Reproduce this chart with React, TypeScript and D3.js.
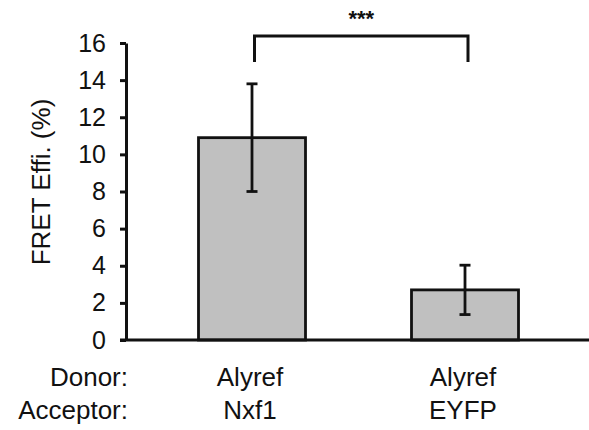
import React, { useRef, useEffect } from "react";
import * as d3 from "d3";

// values
const categories = ["Nxf1", "EYFP"];
const donors = ["Alyref", "Alyref"];
const means = [10.9, 2.7];
const errors = [2.9, 1.33];
const yTicks = [0, 2, 4, 6, 8, 10, 12, 14, 16];
const rowLabels = ["Donor:", "Acceptor:"];
const significance = "***";

const App = () => {
  const svgRef = useRef<SVGSVGElement>(null);

  useEffect(() => {
    const width = 589;
    const font = "'Liberation Sans', Arial, sans-serif";
    const ink = "#111";

    const svg = d3.select(svgRef.current);
    svg.selectAll("*").remove();

    const x = d3.scalePoint().domain(categories).range([145.5, 571.5]).padding(0.5);
    const y = d3.scaleLinear().domain([0, 16]).range([340, 43]);
    const barW = 107;

    // bars
    svg
      .append("g")
      .selectAll("rect")
      .data(categories)
      .join("rect")
      .attr("x", (d) => x(d)! - barW / 2)
      .attr("y", (d, i) => y(means[i]))
      .attr("width", barW)
      .attr("height", (d, i) => y(0) - y(means[i]))
      .attr("fill", "#c0c0c0")
      .attr("stroke", ink)
      .attr("stroke-width", 2.8);

    // error bars
    const err = svg.append("g").attr("stroke", ink).attr("stroke-width", 2.8);
    categories.forEach((c, i) => {
      const cx = x(c)!;
      const top = y(means[i] + errors[i]);
      const bot = y(means[i] - errors[i]);
      err.append("line").attr("x1", cx).attr("x2", cx).attr("y1", top).attr("y2", bot);
      err.append("line").attr("x1", cx - 5.5).attr("x2", cx + 5.5).attr("y1", top).attr("y2", top);
      err.append("line").attr("x1", cx - 5.5).attr("x2", cx + 5.5).attr("y1", bot).attr("y2", bot);
    });

    // y axis
    const yAxis = svg
      .append("g")
      .attr("transform", "translate(126,0)")
      .call(d3.axisLeft(y).tickValues(yTicks).tickSize(6).tickSizeOuter(0).tickPadding(14));
    yAxis.select(".domain").attr("stroke", ink).attr("stroke-width", 3);
    yAxis.selectAll(".tick line").attr("stroke", ink).attr("stroke-width", 3);
    yAxis
      .selectAll(".tick text")
      .attr("font-family", font)
      .attr("font-size", 25)
      .attr("fill", ink);

    // x baseline
    svg
      .append("line")
      .attr("x1", 120)
      .attr("x2", width)
      .attr("y1", y(0))
      .attr("y2", y(0))
      .attr("stroke", ink)
      .attr("stroke-width", 3);

    // y label
    svg
      .append("text")
      .attr("transform", `translate(50,${182}) rotate(-90)`)
      .attr("text-anchor", "middle")
      .attr("font-family", font)
      .attr("font-size", 26)
      .attr("fill", ink)
      .text("FRET Effi. (%)");

    // category labels
    const labels = svg
      .append("g")
      .attr("font-family", font)
      .attr("font-size", 26)
      .attr("fill", ink);
    labels.append("text").attr("x", 128).attr("y", 386).attr("text-anchor", "end").text(rowLabels[0]);
    labels.append("text").attr("x", 128).attr("y", 419).attr("text-anchor", "end").text(rowLabels[1]);
    categories.forEach((c, i) => {
      labels.append("text").attr("x", x(c)! - 2).attr("y", 386).attr("text-anchor", "middle").text(donors[i]);
      labels.append("text").attr("x", x(c)! - 2).attr("y", 419).attr("text-anchor", "middle").text(c);
    });

    // significance bracket
    const bx1 = x(categories[0])! + 2.5;
    const bx2 = x(categories[1])! + 3;
    svg
      .append("path")
      .attr("d", `M${bx1},62 V36 H${bx2} V62`)
      .attr("fill", "none")
      .attr("stroke", ink)
      .attr("stroke-width", 3);
    svg
      .append("text")
      .attr("x", (bx1 + bx2) / 2)
      .attr("y", 26)
      .attr("text-anchor", "middle")
      .attr("font-family", font)
      .attr("font-size", 22)
      .attr("font-weight", "bold")
      .attr("fill", ink)
      .text(significance);
  }, []);

  return (
    <svg
      ref={svgRef}
      width={589}
      height={430}
      style={{ position: "absolute", left: 0, top: 0, background: "#fff" }}
    ></svg>
  );
};

export default App;
